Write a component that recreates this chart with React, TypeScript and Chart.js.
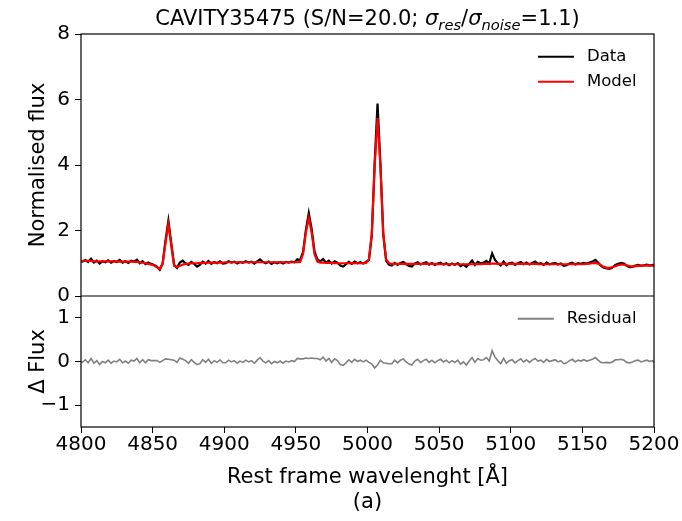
import React, { useEffect, useRef } from "react";
import { Chart, registerables } from "chart.js";

Chart.register(...registerables);

const FAMILY = "'DejaVu Sans', 'Liberation Sans', sans-serif";

const TITLE_PARTS = [
  { text: "CAVITY35475 (S/N=20.0; ", italic: false, sub: false },
  { text: "σ", italic: true, sub: false },
  { text: "res", italic: true, sub: true },
  { text: "/", italic: false, sub: false },
  { text: "σ", italic: true, sub: false },
  { text: "noise", italic: true, sub: true },
  { text: "=1.1)", italic: false, sub: false },
];
const X_LABEL = "Rest frame wavelenght [Å]";
const CAPTION = "(a)";
const Y_LABEL_TOP = "Normalised flux";
const Y_LABEL_BOTTOM = "Δ Flux";
const LEGEND_TOP = ["Data", "Model"];
const LEGEND_BOTTOM = ["Residual"];

const X_TICKS = [4800, 4850, 4900, 4950, 5000, 5050, 5100, 5150, 5200];
const FLUX_TICKS = [0, 2, 4, 6, 8];
const RESID_TICKS = [-1, 0, 1];

// wavelength grid: 4800, odd Å 4801..5199, 5200
const WAVELENGTH = [4800, ...Array.from({ length: 200 }, (_, i) => 4801 + 2 * i), 5200];

const DATA_FLUX = [
  1.06, 1.05, 1.10, 1.04, 1.14, 1.02, 1.08, 0.99, 1.06, 1.03, 1.09,
  1.02, 1.07, 1.04, 1.10, 1.02, 1.06, 1.01, 1.08, 1.05, 1.11,
  1.00, 1.06, 0.97, 1.02, 0.98, 0.95, 0.90, 0.80, 1.00, 1.70,
  2.30, 1.62, 0.95, 0.86, 1.02, 1.08, 1.00, 0.95, 1.04, 0.98,
  0.90, 0.95, 1.05, 0.99, 1.07, 0.98, 1.04, 1.00, 1.06, 0.99,
  1.00, 1.06, 1.02, 1.05, 0.99, 1.04, 1.01, 1.06, 1.02, 1.05,
  0.99, 1.06, 1.12, 1.04, 1.00, 1.05, 0.98, 1.03, 1.00, 1.04,
  0.99, 1.04, 1.02, 1.05, 1.03, 1.12, 1.10, 1.34, 2.02, 2.53,
  2.05, 1.36, 1.12, 1.06, 1.13, 1.02, 1.08, 0.99, 1.06, 1.02,
  0.93, 0.90, 0.97, 1.04, 0.98, 1.05, 1.00, 1.03, 0.99, 1.04,
  1.10, 1.85, 4.05, 5.88, 4.05, 1.88, 1.08, 0.95, 0.93, 1.01,
  0.95, 1.01, 1.04, 0.97, 0.92, 0.90, 0.99, 1.03, 0.96, 1.00,
  1.03, 0.96, 1.01, 0.95, 0.99, 1.02, 0.96, 1.00, 0.94, 0.99,
  0.95, 1.00, 0.91, 0.96, 0.89, 0.98, 1.08, 0.95, 1.04, 1.00,
  1.02, 1.07, 0.99, 1.30, 1.10, 1.00, 0.93, 1.05, 0.94, 1.00,
  1.02, 0.95, 1.00, 1.04, 0.97, 1.02, 0.96, 1.01, 1.05, 0.98,
  1.00, 0.95, 1.02, 0.97, 0.99, 1.01, 0.96, 0.99, 0.92, 0.94,
  0.99, 1.02, 0.96, 1.00, 0.98, 1.01, 0.99, 1.02, 1.05, 1.10,
  1.02, 0.92, 0.86, 0.84, 0.83, 0.87, 0.95, 0.98, 1.01, 0.99,
  0.92, 0.88, 0.89, 0.93, 0.95, 0.92, 0.94, 0.96, 0.93, 0.95, 0.94,
];

const MODEL_FLUX = [
  1.07, 1.07, 1.07, 1.07, 1.07, 1.06, 1.06, 1.06, 1.06, 1.06, 1.06,
  1.06, 1.06, 1.05, 1.05, 1.05, 1.05, 1.05, 1.05, 1.04, 1.04,
  1.03, 1.02, 1.00, 0.98, 0.96, 0.93, 0.88, 0.82, 0.98, 1.62,
  2.19, 1.55, 0.92, 0.88, 0.92, 0.96, 0.98, 0.99, 1.00, 1.00,
  1.00, 1.01, 1.01, 1.01, 1.02, 1.02, 1.02, 1.02, 1.02, 1.02,
  1.03, 1.03, 1.03, 1.03, 1.03, 1.03, 1.03, 1.03, 1.03, 1.03,
  1.03, 1.03, 1.03, 1.03, 1.03, 1.03, 1.03, 1.03, 1.03, 1.03,
  1.03, 1.03, 1.03, 1.03, 1.03, 1.03, 1.04, 1.28, 1.94, 2.39,
  1.94, 1.28, 1.05, 1.02, 1.02, 1.01, 1.01, 1.01, 1.00, 1.00,
  1.00, 1.00, 1.00, 1.00, 1.00, 1.00, 1.00, 1.00, 1.00, 1.01,
  1.12, 1.91, 3.98, 5.43, 3.98, 1.91, 1.12, 1.00, 0.98, 0.98,
  0.98, 0.98, 0.98, 0.98, 0.98, 0.98, 0.98, 0.98, 0.98, 0.98,
  0.98, 0.98, 0.98, 0.98, 0.97, 0.97, 0.97, 0.97, 0.97, 0.97,
  0.97, 0.97, 0.97, 0.97, 0.97, 0.97, 0.97, 0.97, 0.97, 0.97,
  0.98, 0.98, 0.98, 0.99, 0.99, 0.98, 0.98, 0.98, 0.98, 0.98,
  0.98, 0.98, 0.98, 0.98, 0.98, 0.98, 0.98, 0.98, 0.98, 0.97,
  0.97, 0.97, 0.97, 0.97, 0.97, 0.97, 0.97, 0.97, 0.97, 0.97,
  0.97, 0.97, 0.97, 0.97, 0.97, 0.97, 0.98, 0.99, 1.00, 1.01,
  0.99, 0.94, 0.89, 0.86, 0.86, 0.88, 0.91, 0.94, 0.96, 0.96,
  0.94, 0.91, 0.90, 0.91, 0.92, 0.93, 0.93, 0.93, 0.93, 0.93, 0.93,
];

const RESIDUAL = [
  0.00, -0.02, 0.04, -0.03, 0.07, -0.04, 0.02, -0.07, 0.00, -0.03, 0.03,
  -0.04, 0.01, -0.01, 0.05, -0.03, 0.01, -0.04, 0.03, 0.01, 0.07,
  -0.03, 0.04, -0.03, 0.04, 0.02, 0.02, 0.02, -0.02, 0.02, 0.06,
  0.05, 0.04, 0.03, -0.02, 0.08, 0.05, 0.02, -0.04, 0.04, -0.02,
  -0.07, -0.05, 0.04, -0.02, 0.05, -0.04, 0.02, -0.02, 0.04, -0.03,
  -0.03, 0.03, -0.01, 0.02, -0.04, 0.01, -0.02, 0.03, -0.01, 0.02,
  -0.04, 0.03, 0.09, 0.01, -0.03, 0.02, -0.05, 0.00, -0.03, 0.01,
  -0.04, 0.01, -0.01, 0.02, 0.00, 0.07, 0.06, 0.06, 0.08, 0.07,
  0.08, 0.07, 0.07, 0.04, 0.10, 0.01, 0.07, -0.02, 0.06, 0.02,
  -0.07, -0.09, -0.03, 0.04, -0.02, 0.05, 0.00, 0.03, -0.01, 0.03,
  -0.02, -0.06, -0.15, -0.08, 0.03, -0.03, -0.04, -0.05, -0.05, 0.03,
  -0.03, 0.03, 0.06, -0.01, -0.06, -0.08, 0.01, 0.05, -0.02, 0.02,
  0.05, -0.02, 0.03, -0.03, 0.02, 0.05, -0.01, 0.03, -0.03, 0.02,
  -0.02, 0.03, -0.06, -0.01, -0.08, 0.01, 0.09, -0.02, 0.07, 0.03,
  0.04, 0.09, 0.01, 0.25, 0.10, 0.02, -0.05, 0.07, -0.04, 0.02,
  0.04, -0.03, 0.02, 0.06, -0.01, 0.04, -0.02, 0.03, 0.07, 0.01,
  0.03, -0.02, 0.05, 0.00, 0.02, 0.04, -0.01, 0.02, -0.05, -0.03,
  0.02, 0.05, -0.01, 0.03, 0.01, 0.04, 0.01, 0.03, 0.05, 0.09,
  0.03, -0.02, -0.03, -0.02, -0.03, -0.01, 0.04, 0.04, 0.05, 0.03,
  -0.02, -0.03, -0.01, 0.02, 0.03, -0.01, 0.01, 0.03, 0.00, 0.02, -0.03,
];

const COLORS = { data: "#000000", model: "#ff0000", residual: "#808080" };

const toPoints = (ys: number[]) => WAVELENGTH.map((x, i) => ({ x, y: ys[i] }));
const fmt = (v: number) => (v < 0 ? "\u2212" + Math.abs(v) : String(v));

const framePlugin = {
  id: "frame",
  afterDatasetsDraw(chart: any) {
    const { ctx, chartArea } = chart;
    const yTop = chart.scales.y;
    ctx.save();
    ctx.strokeStyle = "#000";
    ctx.lineWidth = 1.2;
    ctx.strokeRect(chartArea.left, chartArea.top, chartArea.right - chartArea.left, chartArea.bottom - chartArea.top);
    ctx.beginPath();
    ctx.moveTo(chartArea.left, yTop.bottom);
    ctx.lineTo(chartArea.right, yTop.bottom);
    ctx.stroke();
    ctx.restore();
  },
};

const legendPlugin = {
  id: "panelLegends",
  afterDraw(chart: any) {
    const { ctx, chartArea } = chart;
    const yTop = chart.scales.y;
    const yBot = chart.scales.y2;
    const font = `16.5px ${FAMILY}`;
    const drawLegend = (labels: string[], colors: string[], top: number) => {
      ctx.save();
      ctx.font = font;
      const maxW = Math.max(...labels.map((l) => ctx.measureText(l).width));
      const textX = chartArea.right - 17.5 - maxW;
      labels.forEach((l, i) => {
        const y = top + 22.7 + i * 25;
        ctx.strokeStyle = colors[i];
        ctx.lineWidth = 2;
        ctx.beginPath();
        ctx.moveTo(textX - 49, y);
        ctx.lineTo(textX - 13, y);
        ctx.stroke();
        ctx.fillStyle = "#000";
        ctx.textBaseline = "middle";
        ctx.textAlign = "left";
        ctx.fillText(l, textX, y);
      });
      ctx.restore();
    };
    drawLegend(LEGEND_TOP, [COLORS.data, COLORS.model], yTop.top);
    drawLegend(LEGEND_BOTTOM, [COLORS.residual], yBot.top);
  },
};

const titlePlugin = {
  id: "mathTitle",
  afterDraw(chart: any) {
    const { ctx, chartArea } = chart;
    const size = 21;
    const fontOf = (p: any) => `${p.italic ? "italic " : ""}${p.sub ? size * 0.7 : size}px ${FAMILY}`;
    ctx.save();
    let total = 0;
    const widths = TITLE_PARTS.map((p) => {
      ctx.font = fontOf(p);
      const w = ctx.measureText(p.text).width;
      total += w;
      return w;
    });
    let x = (chartArea.left + chartArea.right) / 2 - total / 2;
    const baseline = 25;
    ctx.fillStyle = "#000";
    ctx.textBaseline = "alphabetic";
    ctx.textAlign = "left";
    TITLE_PARTS.forEach((p, i) => {
      ctx.font = fontOf(p);
      ctx.fillText(p.text, x, baseline + (p.sub ? 5 : 0));
      x += widths[i];
    });
    ctx.restore();
  },
};

export default function App() {
  const ref = useRef<HTMLCanvasElement | null>(null);

  useEffect(() => {
    if (!ref.current) return;
    const tickFont = { family: FAMILY, size: 20 };
    const labelFont = { family: FAMILY, size: 21 };
    const chart = new Chart(ref.current, {
      type: "line",
      data: {
        datasets: [
          {
            label: "Model",
            data: toPoints(MODEL_FLUX),
            borderColor: COLORS.model,
            borderWidth: 2.2,
            pointRadius: 0,
            tension: 0,
            yAxisID: "y",
            order: 0,
          },
          {
            label: "Data",
            data: toPoints(DATA_FLUX),
            borderColor: COLORS.data,
            borderWidth: 2.2,
            pointRadius: 0,
            tension: 0,
            yAxisID: "y",
            order: 1,
          },
          {
            label: "Residual",
            data: toPoints(RESIDUAL),
            borderColor: COLORS.residual,
            borderWidth: 1.6,
            pointRadius: 0,
            tension: 0,
            yAxisID: "y2",
            order: 2,
          },
        ],
      },
      options: {
        animation: false,
        responsive: false,
        events: [],
        layout: { padding: { top: 34, right: 28, bottom: 0, left: 0 } },
        plugins: {
          legend: { display: false },
          tooltip: { enabled: false },
          title: { display: false },
        },
        scales: {
          x: {
            type: "linear",
            position: "bottom",
            min: 4800,
            max: 5200,
            afterBuildTicks: (s: any) => {
              s.ticks = X_TICKS.map((v) => ({ value: v }));
            },
            afterFit: (s: any) => {
              s.height = 94;
            },
            ticks: {
              font: tickFont,
              color: "#000",
              autoSkip: false,
              maxRotation: 0,
              padding: 0,
              callback: (v: any) => String(v),
            },
            grid: { drawOnChartArea: false, tickLength: 6, color: "#000", tickColor: "#000", tickWidth: 1 },
            border: { display: false },
            title: {
              display: true,
              text: [X_LABEL, CAPTION],
              font: labelFont,
              color: "#000",
              padding: { top: 0, bottom: 6 },
            },
          },
          y: {
            type: "linear",
            position: "left",
            stack: "panels",
            stackWeight: 2,
            weight: 2,
            min: 0,
            max: 8,
            afterBuildTicks: (s: any) => {
              s.ticks = FLUX_TICKS.map((v) => ({ value: v }));
            },
            afterFit: (s: any) => {
              s.width = 81;
            },
            ticks: { font: tickFont, color: "#000", padding: 5, callback: (v: any) => fmt(v) },
            grid: { drawOnChartArea: false, tickLength: 6, color: "#000", tickColor: "#000", tickWidth: 1 },
            border: { display: false },
            title: {
              display: true,
              text: Y_LABEL_TOP,
              font: labelFont,
              color: "#000",
              padding: { top: 26, bottom: 0 },
            },
          },
          y2: {
            type: "linear",
            position: "left",
            stack: "panels",
            stackWeight: 1,
            weight: 1,
            min: -1.5,
            max: 1.5,
            afterBuildTicks: (s: any) => {
              s.ticks = RESID_TICKS.map((v) => ({ value: v }));
            },
            afterFit: (s: any) => {
              s.width = 81;
            },
            ticks: { font: tickFont, color: "#000", padding: 5, callback: (v: any) => fmt(v) },
            grid: { drawOnChartArea: false, tickLength: 6, color: "#000", tickColor: "#000", tickWidth: 1 },
            border: { display: false },
            title: {
              display: true,
              text: Y_LABEL_BOTTOM,
              font: labelFont,
              color: "#000",
              padding: { top: 26, bottom: 0 },
            },
          },
        },
      } as any,
      plugins: [framePlugin, legendPlugin, titlePlugin],
    });
    return () => chart.destroy();
  }, []);

  return (
    <div style={{ position: "fixed", left: 0, top: 0, width: 682, height: 521, background: "#fff" }}>
      <canvas ref={ref} width={682} height={521} style={{ width: 682, height: 521, display: "block" }} />
    </div>
  );
}
